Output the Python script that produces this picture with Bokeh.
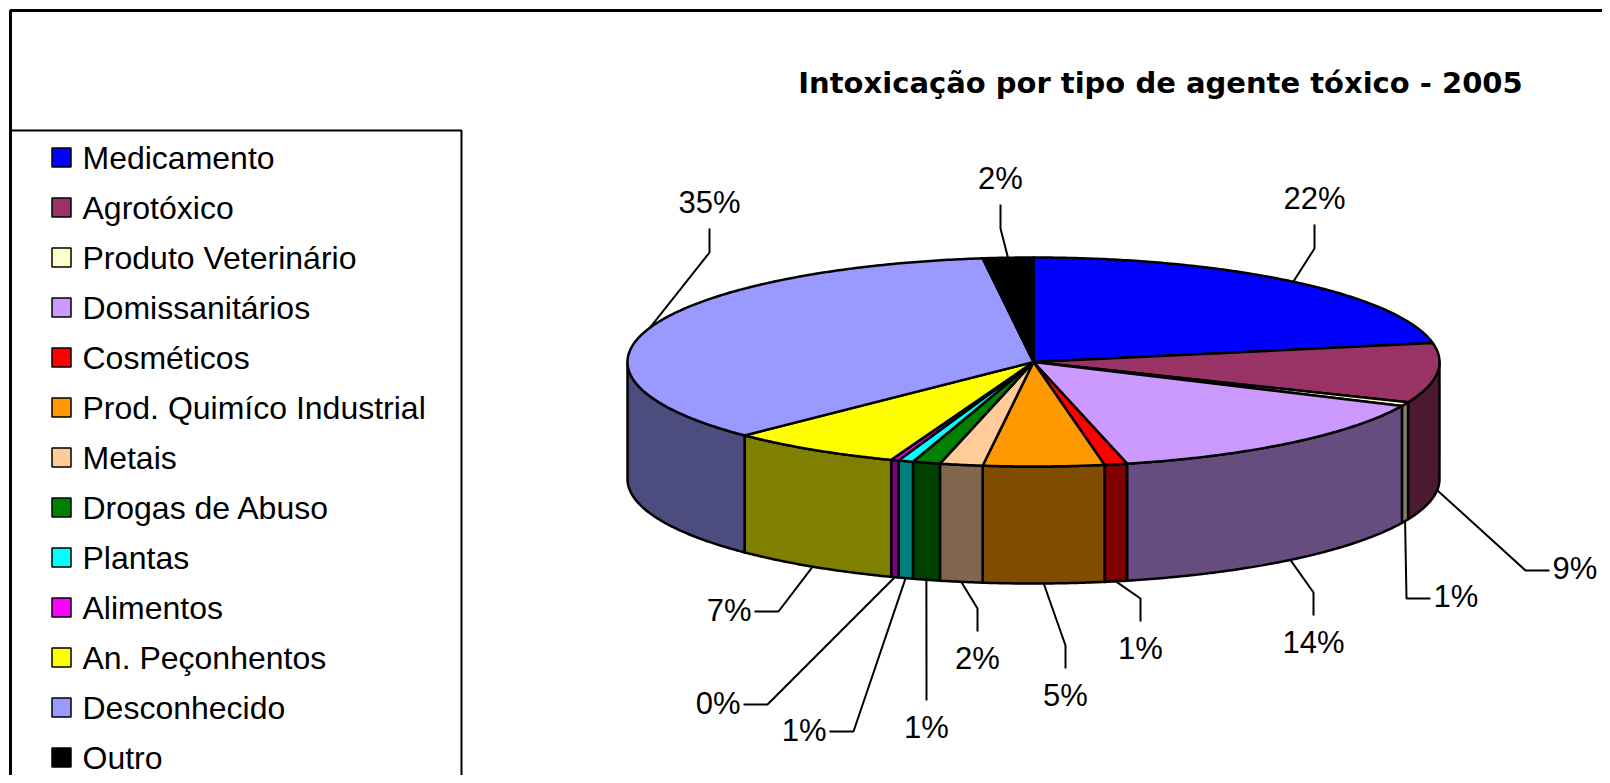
import math
import numpy as np
from bokeh.plotting import figure
from bokeh.models import Range1d
from bokeh.embed import file_html
from bokeh.resources import INLINE
from bokeh.core.properties import value

# ---------------- data ----------------
categories = ["Medicamento", "Agrotóxico", "Produto Veterinário", "Domissanitários",
              "Cosméticos", "Prod. Quimíco Industrial", "Metais", "Drogas de Abuso",
              "Plantas", "Alimentos", "An. Peçonhentos", "Desconhecido", "Outro"]
shares = [22.1, 9.2, 0.6, 14.4, 0.9, 4.8, 1.7, 1.1, 0.6, 0.3, 6.9, 35.4, 2.0]
top_colors = ["#0000FF", "#993366", "#FFFFCC", "#CC99FF", "#FF0000", "#FF9900",
              "#FFCC99", "#008000", "#00FFFF", "#FF00FF", "#FFFF00", "#9999FF", "#000000"]
title_text = "Intoxicação por tipo de agente tóxico - 2005"

# ---------------- layout (page pixel coordinates) ----------------
CX, CY, RX, RY, DEPTH = 1033.0, 361.5, 406.0, 104.5, 117.0
# label anchor per slice: (x, y, kind)  kind: above / below / left / right
label_layout = [(1314, 198, "above"), (1552, 568, "right"), (1433, 596, "right"),
                (1313, 642, "below"), (1140, 648, "below"), (1065, 695, "below"),
                (977, 658, "below"), (926, 727, "below"), (826, 730, "left"),
                (740, 703, "left"), (751, 610, "left"), (709, 202, "above"),
                (1000, 178, "above")]

FONT = "Liberation Sans"
W, H = 1602, 775

def darker(c):
    r, g, b = int(c[1:3], 16), int(c[3:5], 16), int(c[5:7], 16)
    return "#%02X%02X%02X" % (r // 2, g // 2, b // 2)

def pt(theta, yoff=0.0):
    t = math.radians(theta)
    return CX + RX * math.sin(t), CY - RY * math.cos(t) + yoff

def arc(a0, a1, yoff=0.0):
    n = max(2, int(abs(a1 - a0) / 0.5) + 2)
    return [pt(a, yoff) for a in np.linspace(a0, a1, n)]

total = float(sum(shares))
bounds = [0.0]
for v in shares:
    bounds.append(bounds[-1] + v / total * 360.0)

p = figure(width=W, height=H, x_range=Range1d(0, W), y_range=Range1d(H, 0),
           output_backend="svg", toolbar_location=None, x_axis_type=None,
           y_axis_type=None, min_border=0)
p.outline_line_color = None
p.background_fill_color = "white"
p.border_fill_color = "white"

# frame
p.line([10, 10, 1640], [800, 10, 10], line_color="black", line_width=3)
p.line([10, 461, 461], [130, 130, 800], line_color="black", line_width=2)

# side faces
sx, sy, sc = [], [], []
for i in range(len(shares)):
    a0, a1 = bounds[i], bounds[i + 1]
    s, e = max(a0, 90.0), min(a1, 270.0)
    if e > s:
        top = arc(s, e)
        bot = arc(e, s, DEPTH)
        pts = top + bot
        sx.append([q[0] for q in pts])
        sy.append([q[1] for q in pts])
        sc.append(darker(top_colors[i]))
p.patches(sx, sy, fill_color=sc, line_color="black", line_width=2.5, line_join="round")

# top faces
tx, ty = [], []
for i in range(len(shares)):
    pts = [(CX, CY)] + arc(bounds[i], bounds[i + 1])
    tx.append([q[0] for q in pts])
    ty.append([q[1] for q in pts])
p.patches(tx, ty, fill_color=top_colors, line_color="black", line_width=2.5, line_join="round")

# leader lines + labels
lx, ly = [], []
groups = {"center": ([], [], []), "left": ([], [], []), "right": ([], [], [])}
for i, v in enumerate(shares):
    m = (bounds[i] + bounds[i + 1]) / 2.0
    start = pt(m, DEPTH if 90 < m < 270 else 0.0)
    x, y, kind = label_layout[i]
    if kind == "above":
        end, elbow, al = (x, y + 26), (x, y + 50), "center"
    elif kind == "below":
        end, elbow, al = (x, y - 27), (x, y - 50), "center"
    elif kind == "right":
        end, elbow, al = (x - 3, y + 2), (x - 27, y + 2), "left"
    else:
        end, elbow, al = (x + 3, y + 1), (x + 27, y + 1), "right"
    lx.append([start[0], elbow[0], end[0]])
    ly.append([start[1], elbow[1], end[1]])
    g = groups[al]
    g[0].append(x); g[1].append(y); g[2].append("%d%%" % int(v / total * 100 + 0.5))
p.multi_line(lx, ly, line_color="black", line_width=2)
for al, (gx, gy, gt) in groups.items():
    if gx:
        p.text(x=gx, y=gy, text=gt, text_font=value(FONT), text_font_size="31px",
               text_align=al, text_baseline="middle", text_color="black")

# title
p.text(x=[1160], y=[82], text=[title_text], text_font=value("DejaVu Sans"),
       text_font_style="bold", text_font_size="29px", text_align="center",
       text_baseline="middle", text_color="black")

# legend
ly0, lstep = 157, 50
leg_y = [ly0 + i * lstep for i in range(len(categories))]
p.rect(x=[61] * len(categories), y=leg_y, width=19, height=19, fill_color=top_colors,
       line_color="black", line_width=1.5)
p.text(x=[82] * len(categories), y=leg_y, text=categories, text_font=value(FONT),
       text_font_size="32px", text_align="left", text_baseline="middle", text_color="black")

open("out.html", "w").write(file_html(p, INLINE))
